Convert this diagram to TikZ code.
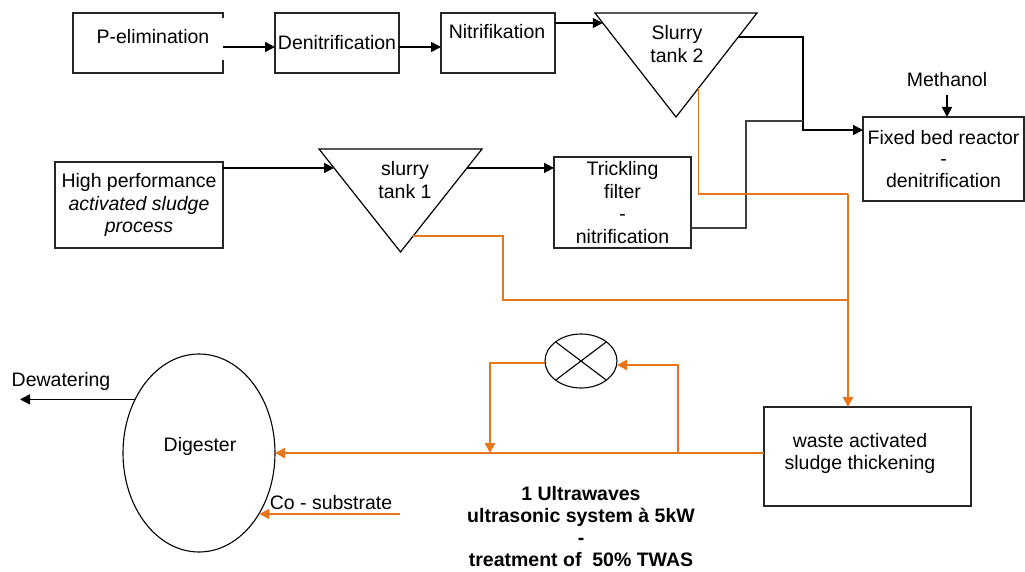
\documentclass[tikz,border=0pt]{standalone}
\usepackage{fontspec}
\setmainfont{Liberation Sans}
\usetikzlibrary{arrows.meta,calc,shapes.geometric}
\definecolor{flow}{RGB}{232,116,28}
\begin{document}
\begin{tikzpicture}[x=1pt,y=-1pt,
  every node/.style={font=\fontsize{19.5}{22.5}\selectfont, inner sep=0pt, outer sep=0pt},
  box/.style={draw=black!85, line width=1.6pt, rectangle},
  boxline/.style={draw=black!85, line width=1.6pt},
  tri/.style={draw=black, line width=1.2pt, line join=miter},
  tip/.style={-{Triangle[length=10pt,width=10pt]}},
  arr/.style={draw=black, line width=1.6pt, tip},
  graybranch/.style={draw=black!75, line width=1.6pt},
  flowline/.style={draw=flow, line width=1.7pt},
  flowthick/.style={draw=flow, line width=2.6pt},
  vessel/.style={draw=black, line width=1.1pt, ellipse}]

\useasboundingbox (0,0) rectangle (1025,572);

% ---- upper treatment line ----
\node[minimum width=150pt, minimum height=60pt] (pelim) at (148,43) {};
\draw[boxline] ([yshift=-5pt]pelim.north east) -- (pelim.north east) -- (pelim.north west)
  -- (pelim.south west) -- (pelim.south east) -- ([yshift=13pt]pelim.south east);
\node (pelimtxt) at (153,37) {P-elimination};

\node[box, minimum width=124pt, minimum height=60pt] (denit) at (337,43) {Denitrification};

\node[box, minimum width=114pt, minimum height=60pt] (nitri) at (498,43) {};
\node (nitritxt) at (497,32) {Nitrifikation};

\node[minimum width=162pt, minimum height=104pt] (tank2) at (676,65) {};
\draw[tri] (tank2.north west) -- (tank2.north east) -- (tank2.south) -- cycle;
\node[align=center] (tank2txt) at (677,44) {Slurry\\tank 2};

\coordinate (t2in)  at ($(tank2.north west)!0.096!(tank2.south)$);
\coordinate (t2out) at ($(tank2.north east)!0.231!(tank2.south)$);
\coordinate (t2or)  at ($(tank2.north east)!0.721!(tank2.south)$);

% ---- lower treatment line ----
\node[box, minimum width=168pt, minimum height=86pt, align=center] (high) at (139,205)
  {High performance\\\textit{activated sludge}\\\textit{process}};

\node[minimum width=163pt, minimum height=103pt] (tank1) at (400.5,200.5) {};
\draw[tri] (tank1.north west) -- (tank1.north east) -- (tank1.south) -- cycle;
\node[align=center] (tank1txt) at (405,180) {slurry\\tank 1};

\coordinate (t1in)  at ($(tank1.north west)!0.184!(tank1.south)$);
\coordinate (t1out) at ($(tank1.north east)!0.184!(tank1.south)$);
\coordinate (t1or)  at ($(tank1.north east)!0.845!(tank1.south)$);

\node[box, minimum width=137pt, minimum height=91pt, align=center] (trick) at (622.5,202.5)
  {Trickling\\filter\\-\\nitrification};

\node[box, minimum width=161pt, minimum height=84pt, align=center,
  font=\fontsize{19.5}{21.5}\selectfont] (fixed) at (943.5,159)
  {Fixed bed reactor\\-\\denitrification};
\node (meth) at (947,80) {Methanol};

% ---- sludge line ----
\node[box, minimum width=207pt, minimum height=99pt] (waste) at (867.5,456.5) {};
\node[align=center] (wastetxt) at (860,453.5) {waste activated\\sludge thickening};

\node[vessel, minimum width=72pt, minimum height=54pt] (lamp) at (581,361) {};
\draw[line width=1.1pt] (lamp.37) -- (lamp.217);
\draw[line width=1.1pt] (lamp.143) -- (lamp.-37);

\node[vessel, minimum width=152pt, minimum height=198pt] (dig) at (199,453) {};
\node (digtxt) at (200,446) {Digester};

\node (dewtxt) at (61,381) {Dewatering};
\node (cotxt) at (331,503) {Co - substrate};
\node[align=center, font=\fontsize{19.5}{22.3}\selectfont\bfseries] (ustxt) at (581,526.5)
  {1 Ultrawaves\\ultrasonic system à 5kW\\-\\treatment of \ 50\% TWAS};

% ---- junction points ----
\coordinate (j1) at (803,130);
\coordinate (j2) at (803,121);
\coordinate (k1) at (746,121);
\coordinate (o1) at (848,194);
\coordinate (o2) at (503,300);
\coordinate (o3) at (848,300);
\coordinate (b1) at (678,453);
\coordinate (b2) at (490,453);
\coordinate (cs) at (400,514);
\coordinate (dw) at (20,400);

% ---- water connectors ----
\draw[arr] ([yshift=-4pt]pelim.east) -- ([yshift=-4pt]denit.west);
\draw[arr] ([yshift=-4pt]denit.east) -- ([yshift=-4pt]nitri.west);
\draw[arr] (nitri.east |- t2in) -- (t2in);
\draw[arr] (t2out) -| (j1) -- (j1 -| fixed.west);
\draw[arr] ([yshift=-8pt]meth.south) -- (meth |- fixed.north);
\draw[arr] (high.east |- t1in) -- (t1in);
\draw[arr] (t1out) -- (t1out -| trick.west);
\draw[graybranch] ([yshift=-25.5pt]trick.east) -| (k1) -- (j2);

% ---- sludge connectors ----
\draw[flowline] (t2or) |- (o1);
\draw[flowthick, tip] (o1) -- (o1 |- waste.north);
\draw[flowline] (t1or) -| (o2) -- (o3);
\draw[flowline, tip] (dig.east -| waste.west) -- (dig.east);
\draw[flowthick, tip] (b1) |- ([yshift=-4pt]lamp.east);
\draw[flowthick, tip] ([yshift=-2pt]lamp.west) -| (b2);
\draw[flowline, tip] (cs) -- (cs -| dig.-45);
\draw[arr] (dig.140) -- (dig.140 -| dw);

\end{tikzpicture}
\end{document}
